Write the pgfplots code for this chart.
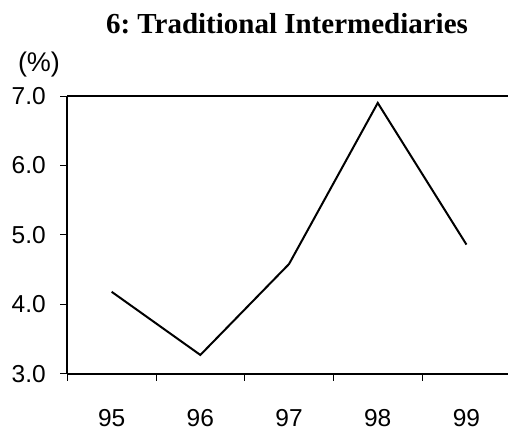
\documentclass[border=0pt]{standalone}
\usepackage{pgfplots}
\pgfplotsset{compat=1.18}
\usepackage{fontspec}
\setmainfont{Liberation Serif}
\setsansfont{Liberation Sans}
\begin{document}
\begin{tikzpicture}[x=1pt,y=1pt]
\useasboundingbox (0,0) rectangle (508,436);
\begin{axis}[
  at={(67.3pt,62.3pt)}, anchor=south west,
  scale only axis, width=443.5pt, height=277.7pt,
  xmin=-0.5, xmax=4.5, ymin=3, ymax=7,
  axis x line=box, axis y line=left,
  axis line style={line width=1.8pt, -},
  xtick={0,1,2,3,4},
  xticklabels={95,96,97,98,99},
  minor xtick={-0.5,0.5,1.5,2.5,3.5,4.5},
  major x tick style={draw=none},
  minor tick length=7pt,
  ytick={3,4,5,6,7},
  yticklabels={3.0,4.0,5.0,6.0,7.0},
  major tick length=7pt,
  tick align=outside,
  xtick pos=bottom, ytick pos=left,
  tick style={line width=0.9pt, black},
  /pgf/number format/assume math mode=true,
  ticklabel style={font=\sffamily\fontsize{24.5}{28}\selectfont},
  xticklabel style={yshift=-25pt},
  yticklabel style={xshift=-11pt},
  clip=false,
]
\addplot[black, line width=2pt] coordinates {(0,4.18) (1,3.27) (2,4.58) (3,6.90) (4,4.86)};
\end{axis}
\node[font=\sffamily\fontsize{27}{30}\selectfont] at (39,371) {(\%)};
\node[anchor=base, font=\bfseries\fontsize{29}{32}\selectfont] at (287,402) {\frenchspacing 6: Traditional Intermediaries};
\end{tikzpicture}
\end{document}
